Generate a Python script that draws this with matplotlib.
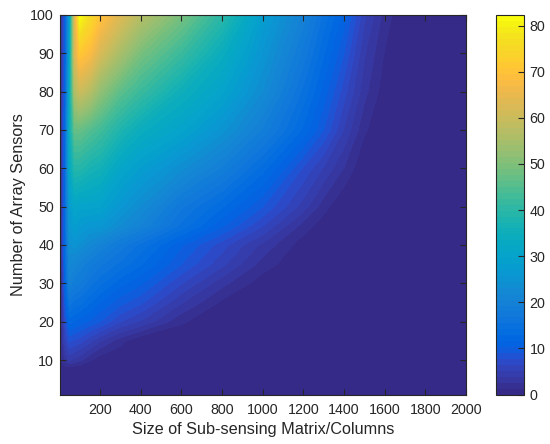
import numpy as np
import matplotlib
matplotlib.use('Agg')
import matplotlib.pyplot as plt
from matplotlib.colors import ListedColormap, BoundaryNorm

# values
columns = [1, 15, 30, 50, 75, 100, 150, 200, 300, 400, 600, 800, 1000, 1200, 1300, 1400, 1500, 1600, 1700, 2000]
sensors = [1, 6, 8, 10, 15, 20, 25, 30, 35, 40, 45, 50, 60, 70, 80, 90, 100]
row_1 = [0] * 20
row_6 = [0] * 20
row_8 = [0.2, 0.8, 1, 1, 0.7, 0.5, 0.1, 0, 0, 0, 0, 0, 0, 0, 0, 0, 0, 0, 0, 0]
row_10 = [0.5, 1.5, 3, 4, 3.5, 3, 1.5, 0.4, 0, 0, 0, 0, 0, 0, 0, 0, 0, 0, 0, 0]
row_15 = [1, 2.5, 5.5, 8, 7.5, 7, 5.5, 4, 1.8, 0, 0, 0, 0, 0, 0, 0, 0, 0, 0, 0]
row_20 = [1, 3, 8, 12, 11.5, 11, 10, 9, 6.5, 5, 1.5, 0, 0, 0, 0, 0, 0, 0, 0, 0]
row_25 = [1, 3.5, 10, 16, 15, 14.5, 13, 11.5, 9.5, 8, 4, 1, 0, 0, 0, 0, 0, 0, 0, 0]
row_30 = [1, 4, 12, 20, 18.5, 18, 16, 14.5, 12, 10.5, 6.5, 3, 0.5, 0, 0, 0, 0, 0, 0, 0]
row_35 = [1, 4.5, 13, 22, 21, 20, 18.5, 17, 15, 13, 9, 5.5, 2, 0, 0, 0, 0, 0, 0, 0]
row_40 = [1, 5, 13, 24, 25, 24, 22, 20.5, 17.5, 15, 10.5, 7, 3.5, 0.5, 0, 0, 0, 0, 0, 0]
row_45 = [1, 5, 14, 26, 28, 27, 26, 26, 23, 20.5, 15, 10.5, 6.5, 2, 0.5, 0, 0, 0, 0, 0]
row_50 = [1, 5, 14, 27, 31, 30, 30, 29.5, 26, 23, 17, 13, 9, 4.5, 1.8, 0, 0, 0, 0, 0]
row_60 = [1, 5, 14, 32, 39, 39, 37, 36, 31, 28, 23.5, 19, 13.5, 7.5, 5, 2.5, 0, 0, 0, 0]
row_70 = [1, 5, 13, 34, 47, 47, 45, 43, 38, 34, 30, 25, 19, 12.5, 9, 5, 1.5, 0, 0, 0]
row_80 = [1, 5, 12, 32, 56, 60, 57, 52, 46, 42, 35, 30, 23, 15, 11, 7, 3, 0.5, 0, 0]
row_90 = [1, 5, 11, 30, 62, 71, 68, 62, 55, 49, 42, 34, 25.5, 17.5, 13, 9, 4, 1.2, 0, 0]
row_100 = [1, 5, 11, 28, 62, 82.3, 76, 70, 63, 57, 49, 40, 28, 20, 15, 11, 5.5, 2, 0, 0]

x_ticks = [200, 400, 600, 800, 1000, 1200, 1400, 1600, 1800, 2000]
y_ticks = [10, 20, 30, 40, 50, 60, 70, 80, 90, 100]
cbar_ticks = [0, 10, 20, 30, 40, 50, 60, 70, 80]

# parula, old 64 entry table
parula = [
    [.2081, .1663, .5292], [.2116, .1898, .5777], [.2123, .2138, .6270], [.2081, .2386, .6771],
    [.1959, .2645, .7279], [.1707, .2919, .7792], [.1253, .3242, .8303], [.0591, .3598, .8683],
    [.0117, .3875, .8820], [.0060, .4086, .8828], [.0165, .4266, .8786], [.0329, .4430, .8720],
    [.0498, .4586, .8641], [.0629, .4737, .8554], [.0723, .4887, .8467], [.0779, .5040, .8384],
    [.0793, .5200, .8312], [.0749, .5375, .8263], [.0641, .5570, .8240], [.0488, .5772, .8228],
    [.0343, .5966, .8199], [.0265, .6137, .8135], [.0239, .6287, .8038], [.0231, .6418, .7913],
    [.0228, .6535, .7768], [.0267, .6642, .7607], [.0384, .6743, .7436], [.0590, .6838, .7254],
    [.0843, .6928, .7062], [.1133, .7015, .6859], [.1453, .7098, .6646], [.1801, .7177, .6424],
    [.2178, .7250, .6193], [.2586, .7317, .5954], [.3022, .7376, .5712], [.3482, .7424, .5473],
    [.3953, .7459, .5244], [.4420, .7481, .5033], [.4871, .7491, .4840], [.5300, .7491, .4661],
    [.5709, .7485, .4494], [.6099, .7473, .4337], [.6473, .7456, .4188], [.6834, .7435, .4044],
    [.7184, .7411, .3905], [.7525, .7384, .3768], [.7858, .7356, .3633], [.8185, .7327, .3498],
    [.8507, .7299, .3360], [.8824, .7274, .3217], [.9139, .7258, .3063], [.9450, .7261, .2886],
    [.9739, .7314, .2666], [.9938, .7455, .2403], [.9990, .7653, .2164], [.9955, .7861, .1967],
    [.9880, .8066, .1794], [.9789, .8271, .1633], [.9697, .8481, .1475], [.9626, .8705, .1309],
    [.9589, .8949, .1132], [.9598, .9218, .0948], [.9661, .9514, .0755], [.9763, .9831, .0538],
]

plt.rcParams['font.family'] = ['Liberation Sans', 'DejaVu Sans']
edge = '#262626'

Z = np.array([row_1, row_6, row_8, row_10, row_15, row_20, row_25, row_30, row_35, row_40,
              row_45, row_50, row_60, row_70, row_80, row_90, row_100])

cmap = ListedColormap(parula)
levels = np.linspace(0, 82.3, 65)
norm = BoundaryNorm(levels, 64)

fig = plt.figure(figsize=(5.5, 4.44), dpi=100)
ax = fig.add_axes([59.5 / 550, 49.5 / 444, 406.5 / 550, 379.5 / 444])
cax = fig.add_axes([495.5 / 550, 49.5 / 444, 28.5 / 550, 379.5 / 444])

ax.set_facecolor(parula[0])
cf = ax.contourf(columns, sensors, Z, levels=levels, cmap=cmap, norm=norm)

ax.set_xlim(1, 2000)
ax.set_ylim(1, 100)
ax.set_xticks(x_ticks)
ax.set_yticks(y_ticks)
ax.tick_params(direction='in', top=True, right=True, length=4, width=0.8, color=edge,
               labelcolor=edge, labelsize=10.3, pad=4)
ax.tick_params(axis='x', pad=6)
ax.set_xlabel('Size of Sub-sensing Matrix/Columns', fontsize=11.7, color=edge, labelpad=3.5)
ax.set_ylabel('Number of Array Sensors', fontsize=11.7, color=edge, labelpad=3)
for s in ax.spines.values():
    s.set_color(edge)
    s.set_linewidth(0.8)

sm = plt.cm.ScalarMappable(norm=norm, cmap=cmap)
cb = fig.colorbar(sm, cax=cax, spacing='proportional', drawedges=False)
cb.set_ticks(cbar_ticks)
cb.ax.minorticks_off()
cb.ax.tick_params(direction='in', length=4, width=0.8, color=edge, labelcolor=edge, labelsize=10.3, pad=4)
cb.outline.set_edgecolor(edge)
cb.outline.set_linewidth(0.8)

fig.savefig('out.png', dpi=100)
